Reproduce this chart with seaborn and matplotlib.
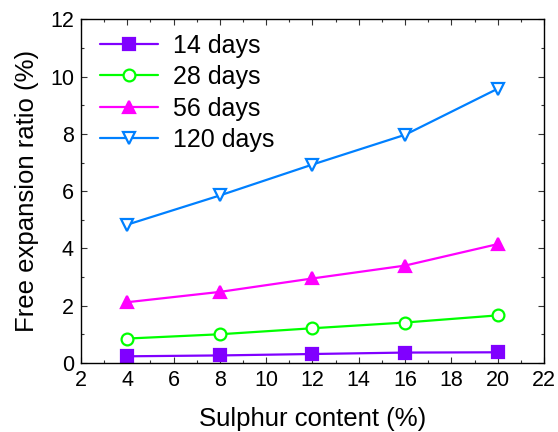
import pandas as pd
import seaborn as sns
import matplotlib.pyplot as plt
from matplotlib.ticker import MultipleLocator

sulphur = [4, 8, 12, 16, 20]
days_14 = [0.23, 0.26, 0.31, 0.36, 0.37]
days_28 = [0.85, 1.00, 1.21, 1.41, 1.66]
days_56 = [2.12, 2.48, 2.95, 3.40, 4.15]
days_120 = [4.83, 5.85, 6.93, 7.97, 9.58]

labels = ["14 days", "28 days", "56 days", "120 days"]
colors = ["#8000FF", "#00FF00", "#FF00FF", "#0080FF"]
markers = ["s", "o", "^", "v"]
filled = [True, False, True, False]

sns.set_style("ticks", {'text.color': 'black', 'axes.labelcolor': 'black',
                        'xtick.color': 'black', 'ytick.color': 'black'})
plt.rcParams['font.family'] = ['Liberation Sans', 'DejaVu Sans']

df = pd.DataFrame({'Sulphur': sulphur * 4,
                   'Ratio': days_14 + days_28 + days_56 + days_120,
                   'Age': [l for l in labels for _ in sulphur]})

fig, ax = plt.subplots(figsize=(5.58, 4.32), dpi=100)
fig.subplots_adjust(left=0.145, right=0.975, bottom=0.16, top=0.955)

for lab, col, mk, fl in zip(labels, colors, markers, filled):
    sub = df[df['Age'] == lab]
    sns.lineplot(data=sub, x='Sulphur', y='Ratio', ax=ax, color=col,
                 marker=mk, markersize=9 if mk != 'o' else 8.5,
                 markerfacecolor=col if fl else 'white',
                 markeredgecolor=col, markeredgewidth=1.6,
                 linewidth=1.6, label=lab)

ax.set_xlim(2, 22)
ax.set_ylim(0, 12)
ax.xaxis.set_major_locator(MultipleLocator(2))
ax.xaxis.set_minor_locator(MultipleLocator(1))
ax.yaxis.set_major_locator(MultipleLocator(2))
ax.yaxis.set_minor_locator(MultipleLocator(1))
ax.tick_params(which='both', direction='in', top=True, right=True,
               labelsize=15.5, color='#333333', labelcolor='black')
ax.tick_params(axis='x', pad=5)
ax.tick_params(axis='y', pad=5)
ax.tick_params(which='major', length=4, width=0.8)
ax.tick_params(which='minor', length=2.5, width=0.8)
for sp in ax.spines.values():
    sp.set_color('black')
    sp.set_linewidth(1.0)

ax.set_xlabel('Sulphur content (%)', fontsize=18.5, labelpad=12)
ax.set_ylabel('Free expansion ratio (%)', fontsize=18.5, labelpad=8)

leg = ax.legend(loc='upper left', frameon=False, fontsize=18,
                handlelength=2.3, labelspacing=0.3, handletextpad=0.6,
                borderaxespad=0.2, borderpad=0.2, bbox_to_anchor=(0.02, 0.988))

plt.savefig('out.png', dpi=100)
